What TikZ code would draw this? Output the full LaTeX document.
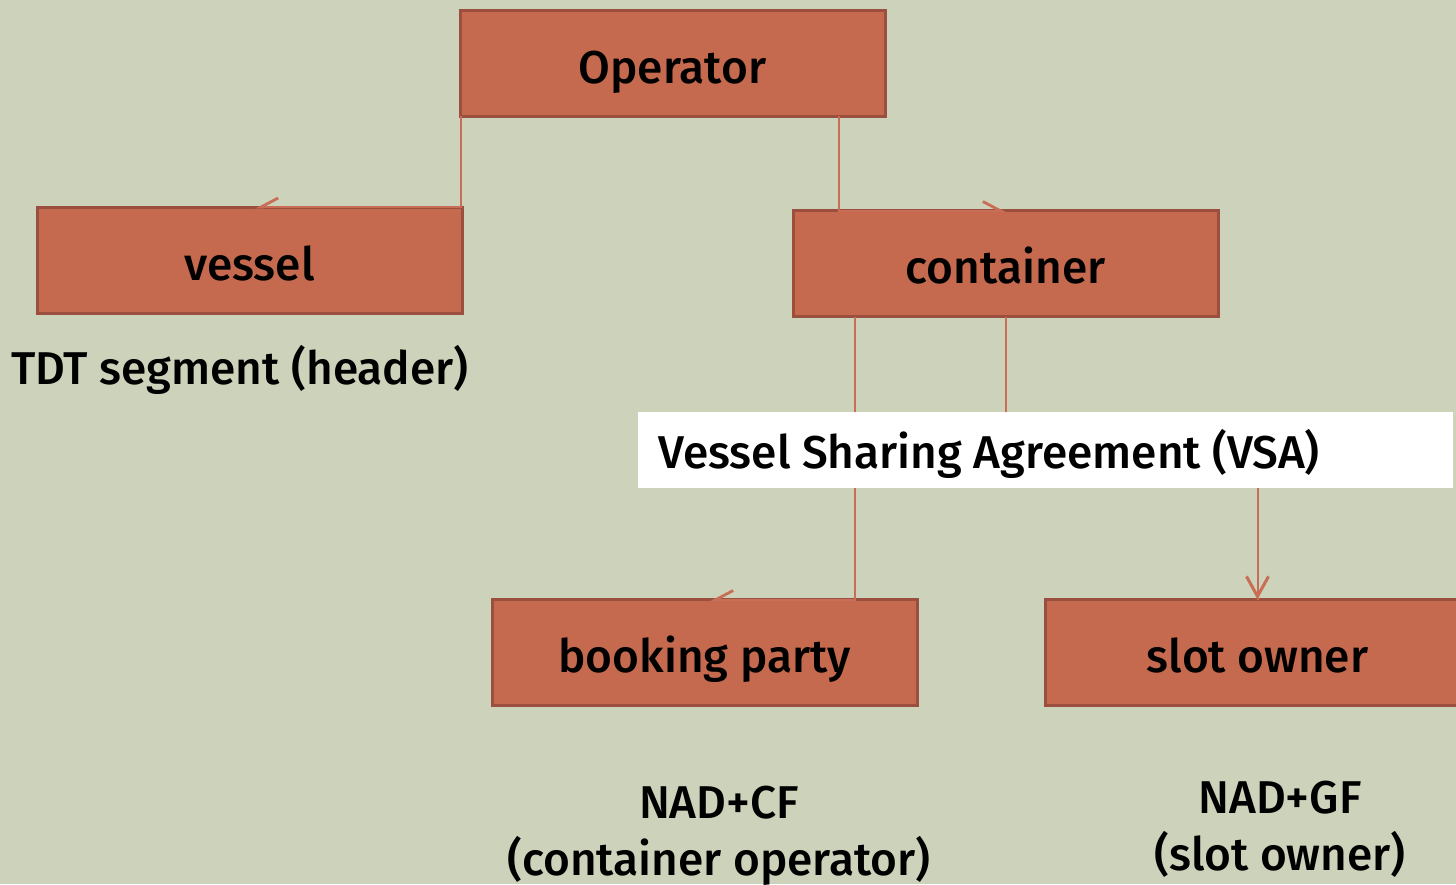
\documentclass[tikz,border=0pt]{standalone}
\usepackage{fontspec}
\setmainfont{Fira Sans}[UprightFont={* Medium}]
\usetikzlibrary{arrows.meta}
\definecolor{bg}{HTML}{CDD3BA}
\definecolor{boxfill}{HTML}{C5694F}
\definecolor{boxline}{HTML}{9B4F3F}
\definecolor{conncol}{HTML}{C86E57}
\tikzset{
  ent/.style={draw=boxline, fill=boxfill, line width=1.5pt, minimum width=212.5pt, minimum height=53pt, inner sep=0pt, outer sep=0pt, text height=25pt, text depth=5pt, font=\fontsize{23}{27}\selectfont},
  lbl/.style={font=\fontsize{23}{28.5}\selectfont, align=center, inner sep=0pt},
  conn/.style={draw=conncol, line width=1pt},
  barbL/.style={-{Straight Barb[length=8.5pt,width=9pt,harpoon,line width=1.4pt]}},
  barbR/.style={-{Straight Barb[length=8.5pt,width=9pt,harpoon,swap,line width=1.4pt]}},
  fullarr/.style={-{Straight Barb[length=10pt,width=11pt,line width=1.5pt]}},
}
\begin{document}
\begin{tikzpicture}[x=0.5pt,y=-0.5pt]
\fill[bg] (0,0) rectangle (1456,884);
\useasboundingbox (0,0) rectangle (1456,884);
\clip (0,0) rectangle (1456,884);
\node[ent] (op) at (672.5,63) {Operator};
\node[ent] (ve) at (249.5,260) {vessel};
\node[ent] (ct) at (1005.5,263.5) {container};
\node[ent] (bp) at (704.5,652.5) {booking party};
\node[ent] (so) at (1257.5,652.5) {slot owner};
\node[lbl] (tdt) at (240,370) {TDT segment (header)};
\node[lbl] (cf) at (719,836) {NAD+CF\\(container operator)};
\node[lbl] (gf) at (1280,829) {NAD+GF\\(slot owner)};
% connectors
\draw[conn,barbR] ([xshift=-0.5pt]ve.north east |- op.south) -- ([xshift=-0.5pt]ve.north east) -- ([xshift=3pt]ve.north);
\draw[conn,barbL] ([xshift=-23pt]op.south east) -- ([xshift=-23pt]op.south east |- ct.north) -- (ct.north);
\draw[conn,barbR] ([xshift=31pt]ct.south west) -- ([xshift=31pt]ct.south west |- bp.north) -- ([xshift=3pt]bp.north);
\draw[conn] (ct.south) -- (ct.south |- 0,450) -| (so.north);
% VSA box on top
\node[fill=white, minimum width=407.5pt, minimum height=38pt, inner sep=0pt] (vsa) at (1045.5,450) {};
\node[lbl, anchor=west] (vsat) at (658,454) {Vessel Sharing Agreement (VSA)};
\draw[conn,fullarr] (vsa.south -| so.north) -- (so.north);
\end{tikzpicture}
\end{document}
